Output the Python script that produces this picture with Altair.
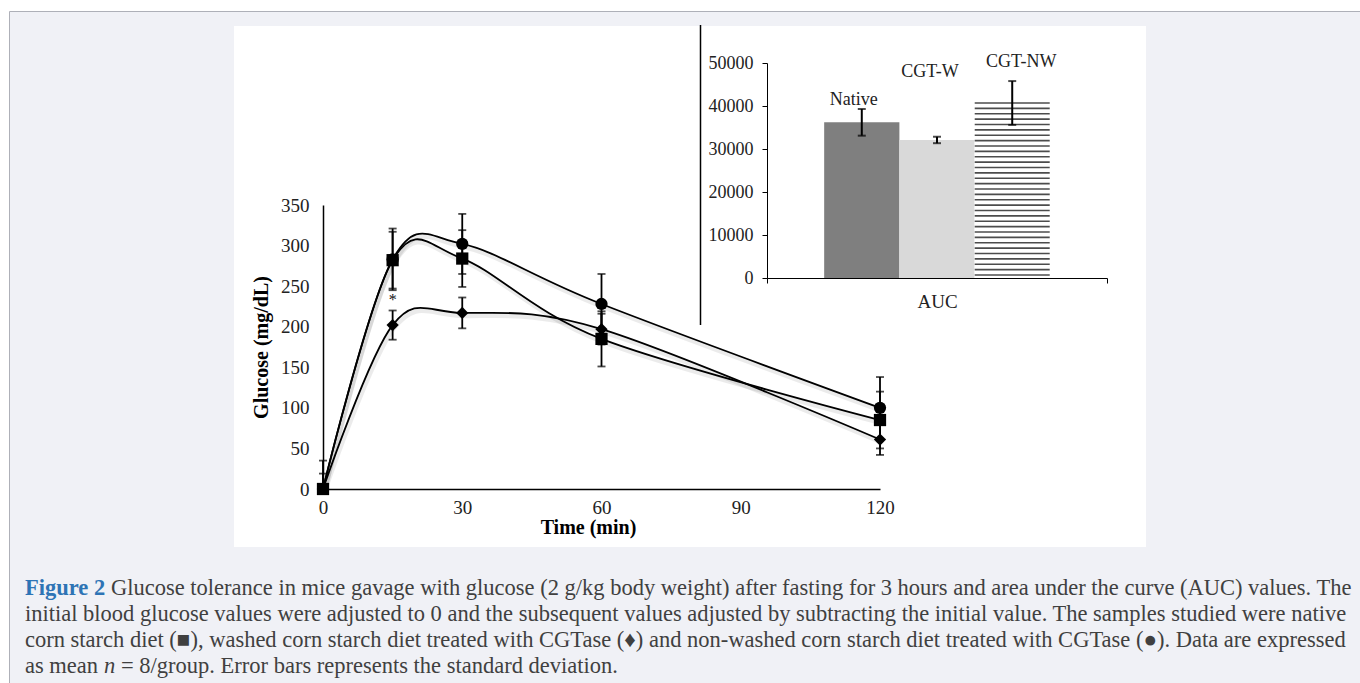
import altair as alt
import pandas as pd

# ---------------- data ----------------
times = [0, 15, 30, 60, 120]
series_names = ["Native", "CGT-W", "CGT-NW"]
series_shapes = ["square", "diamond", "circle"]
native_mean = [0, 282, 284, 185, 85]
native_sd = [19, 35, 35, 34, 35]
cgtw_mean = [0, 202, 217, 197, 61]
cgtw_sd = [0, 18, 19, 19, 19]
cgtnw_mean = [0, 283, 302, 228, 100]
cgtnw_sd = [35, 38, 37, 37, 38]

x_ticks = [0, 30, 60, 90, 120]
y_ticks = [0, 50, 100, 150, 200, 250, 300, 350]

star_time = [15]
star_value = [233]

auc_groups = ["Native", "CGT-W", "CGT-NW"]
auc_mean = [36200, 32100, 40700]
auc_sd = [3100, 750, 5100]
auc_label_y = [41400, 48000, 50200]
auc_label_dx = [-8, -7, 9]
auc_colors = ["#7f7f7f", "#d9d9d9", "#ffffff"]
auc_ticks = [0, 10000, 20000, 30000, 40000, 50000]

cap_l1_fig = "Figure 2"
cap_l1 = ("Glucose tolerance in mice gavage with glucose (2 g/kg body weight) after fasting "
          "for 3 hours and area under the curve (AUC) values. The")
cap_l2 = ("initial blood glucose values were adjusted to 0 and the subsequent values adjusted by "
          "subtracting the initial value. The samples studied were native")
cap_l3 = ("corn starch diet (\u25a0), washed corn starch diet treated with CGTase (\u2666) and "
          "non-washed corn starch diet treated with CGTase (\u25cf). Data are expressed")
cap_l4a = "as mean"
cap_l4b = "n"
cap_l4c = "= 8/group. Error bars represents the standard deviation."

# ---------------- tables ----------------
rows = []
for name, means, sds in zip(series_names, [native_mean, cgtw_mean, cgtnw_mean],
                            [native_sd, cgtw_sd, cgtnw_sd]):
    for t, m, s in zip(times, means, sds):
        rows.append(dict(series=name, time=t, value=m, sd=s,
                         lo=max(m - s, 0), hi=m + s, lo_raw=m - s))
main_df = pd.DataFrame(rows)
err_df = main_df[main_df["sd"] > 0]
err_lo_df = err_df[err_df["lo_raw"] >= 0]

auc_df = pd.DataFrame(dict(cat=["AUC"] * 3, group=auc_groups, auc=auc_mean,
                           lo=[m - s for m, s in zip(auc_mean, auc_sd)],
                           hi=[m + s for m, s in zip(auc_mean, auc_sd)],
                           ly=auc_label_y))

W, H = 1360, 683
SERIF = "Liberation Serif"

# ---------------- main chart scales ----------------
xs = alt.Scale(domain=[0, 120], range=[323, 880], nice=False, zero=False)
ys = alt.Scale(domain=[0, 350], range=[489, 205], nice=False, zero=False)

x_axis = alt.Axis(orient="bottom", offset=489 - H, values=x_ticks, ticks=False, tickSize=0,
                  domainColor="black", domainWidth=1.5, grid=False, zindex=1,
                  labelFont=SERIF, labelFontSize=19, labelColor="#222", labelPadding=9,
                  labelFlush=False, labelOverlap=False,
                  title="Time (min)", titleFont=SERIF, titleFontSize=20, titleFontWeight="bold",
                  titleColor="black", titlePadding=0, titleX=588)
y_axis = alt.Axis(orient="left", offset=-323, values=y_ticks, ticks=False, tickSize=0,
                  domainColor="black", domainWidth=1.5, grid=False, zindex=1,
                  labelFont=SERIF, labelFontSize=19, labelColor="#222", labelPadding=14,
                  labelFlush=False, labelOverlap=False,
                  title="Glucose  (mg/dL)", titleFont=SERIF, titleFontSize=20,
                  titleFontWeight="bold", titleColor="black", titlePadding=9)

base = alt.Chart(main_df)
shape_scale = alt.Scale(domain=series_names, range=series_shapes)

shadow = base.mark_line(interpolate="cardinal", color="black", opacity=0.08, strokeWidth=4.5,
                        xOffset=1.5, yOffset=3).encode(
    x=alt.X("time:Q", scale=xs, axis=None),
    y=alt.Y("value:Q", scale=ys, axis=None),
    detail="series:N")

lines = base.mark_line(interpolate="cardinal", color="black", strokeWidth=1.8).encode(
    x=alt.X("time:Q", scale=xs, axis=x_axis),
    y=alt.Y("value:Q", scale=ys, axis=y_axis),
    detail="series:N")

err_rule = alt.Chart(err_df).mark_rule(color="black", strokeWidth=1.8).encode(
    x=alt.X("time:Q", scale=xs, axis=None),
    y=alt.Y("lo:Q", scale=ys, axis=None), y2="hi:Q")
err_lo = alt.Chart(err_lo_df).mark_tick(color="black", orient="horizontal", size=8,
                                        thickness=1.8).encode(
    x=alt.X("time:Q", scale=xs, axis=None),
    y=alt.Y("lo:Q", scale=ys, axis=None))
err_hi = alt.Chart(err_df).mark_tick(color="black", orient="horizontal", size=8,
                                     thickness=1.8).encode(
    x=alt.X("time:Q", scale=xs, axis=None),
    y=alt.Y("hi:Q", scale=ys, axis=None))

points = base.mark_point(filled=True, color="black", opacity=1, size=150).encode(
    x=alt.X("time:Q", scale=xs, axis=None),
    y=alt.Y("value:Q", scale=ys, axis=None),
    shape=alt.Shape("series:N", scale=shape_scale, legend=None))

star = alt.Chart(pd.DataFrame(dict(time=star_time, value=star_value, t=["*"]))).mark_text(
    font=SERIF, fontSize=16, color="#111").encode(
    x=alt.X("time:Q", scale=xs, axis=None),
    y=alt.Y("value:Q", scale=ys, axis=None), text="t:N")

# ---------------- inset (AUC) ----------------
xa_scale = alt.Scale(domain=["AUC"], range=[767, 1107], paddingInner=0, paddingOuter=0)
xo_scale = alt.Scale(domain=auc_groups, range=[0, 340], paddingInner=0, paddingOuter=0.76)
ya_scale = alt.Scale(domain=[0, 50000], range=[278, 63], nice=False, zero=True)

xa_axis = alt.Axis(orient="bottom", offset=278 - H, tickBand="extent", ticks=True, tickSize=5,
                   tickColor="black", tickWidth=1, domainColor="black", domainWidth=1,
                   grid=False, zindex=1, labelFont=SERIF, labelFontSize=19, labelColor="#222",
                   labelPadding=9, labelAngle=0, title=None)
ya_axis = alt.Axis(orient="left", offset=-767, values=auc_ticks, format="d", ticks=True,
                   tickSize=5, tickColor="black", tickWidth=1, domainColor="black",
                   domainWidth=1, grid=False, zindex=1, labelFont=SERIF, labelFontSize=18,
                   labelColor="#222", labelPadding=9, labelFlush=False, labelOverlap=False,
                   title=None)

abase = alt.Chart(auc_df)
bars = abase.mark_bar().encode(
    x=alt.X("cat:N", scale=xa_scale, axis=xa_axis),
    xOffset=alt.XOffset("group:N", scale=xo_scale),
    y=alt.Y("auc:Q", scale=ya_scale, axis=ya_axis),
    color=alt.Color("group:N", scale=alt.Scale(domain=auc_groups, range=auc_colors), legend=None))

stripes = abase.transform_filter(alt.datum.group == "CGT-NW").transform_calculate(
    s="sequence(0, datum.auc, 1250)").transform_flatten(["s"]).transform_calculate(
    sy="datum.auc - datum.s").mark_tick(color="black", orient="horizontal", size=75,
                                        thickness=1.6).encode(
    x=alt.X("cat:N", scale=xa_scale, axis=None),
    xOffset=alt.XOffset("group:N", scale=xo_scale),
    y=alt.Y("sy:Q", scale=ya_scale, axis=None))

a_rule = abase.mark_rule(color="black", strokeWidth=2).encode(
    x=alt.X("cat:N", scale=xa_scale, axis=None),
    xOffset=alt.XOffset("group:N", scale=xo_scale),
    y=alt.Y("lo:Q", scale=ya_scale, axis=None), y2="hi:Q")
a_lo = abase.mark_tick(color="black", orient="horizontal", size=8, thickness=2).encode(
    x=alt.X("cat:N", scale=xa_scale, axis=None),
    xOffset=alt.XOffset("group:N", scale=xo_scale),
    y=alt.Y("lo:Q", scale=ya_scale, axis=None))
a_hi = abase.mark_tick(color="black", orient="horizontal", size=8, thickness=2).encode(
    x=alt.X("cat:N", scale=xa_scale, axis=None),
    xOffset=alt.XOffset("group:N", scale=xo_scale),
    y=alt.Y("hi:Q", scale=ya_scale, axis=None))

a_labels = []
for g, dx in zip(auc_groups, auc_label_dx):
    a_labels.append(abase.transform_filter(alt.datum.group == g).mark_text(
        font=SERIF, fontSize=18, color="#222", dx=dx, baseline="middle").encode(
        x=alt.X("cat:N", scale=xa_scale, axis=None),
        xOffset=alt.XOffset("group:N", scale=xo_scale),
        y=alt.Y("ly:Q", scale=ya_scale, axis=None),
        text="group:N"))

# ---------------- page decoration ----------------
one = pd.DataFrame({"k": [0]})
deco = alt.Chart(one)
page_bg = deco.mark_rect(fill="#f0f1f6", stroke="#aeb0b8", strokeWidth=1).encode(
    x=alt.value(9.5), x2=alt.value(W + 5), y=alt.value(11.5), y2=alt.value(H + 5))
fig_bg = deco.mark_rect(fill="white").encode(
    x=alt.value(234), x2=alt.value(1146), y=alt.value(26), y2=alt.value(547))
inset_border = deco.mark_rule(color="black", strokeWidth=1.5).encode(
    x=alt.value(700.5), y=alt.value(25), y2=alt.value(325))

CAP_FONT = SERIF
CAP_SIZE = 22.5
CAP_COLOR = "#404040"


def cap(text, x, y, **kw):
    props = dict(font=CAP_FONT, fontSize=CAP_SIZE, color=CAP_COLOR, align="left",
                 baseline="alphabetic")
    props.update(kw)
    return deco.mark_text(**props).encode(x=alt.value(x), y=alt.value(y), text=alt.value(text))


captions = [
    cap(cap_l1_fig, 25, 595, color="#2e74b5", fontWeight="bold"),
    cap(cap_l1, 111, 595),
    cap(cap_l2, 25, 621),
    cap(cap_l3, 25, 647),
    cap(cap_l4a, 25, 673),
    cap(cap_l4b, 104, 673, fontStyle="italic"),
    cap(cap_l4c, 121, 673),
]

chart = alt.layer(
    page_bg, fig_bg,
    shadow, err_rule, err_lo, err_hi, lines, points, star,
    bars, stripes, a_rule, a_lo, a_hi, *a_labels,
    inset_border,
    *captions,
).resolve_scale(x="independent", y="independent").properties(
    width=W, height=H, autosize="none", padding=0, background="white"
).configure_view(stroke=None)

chart.save("out.html", embed_options={"renderer": "svg", "actions": False})
